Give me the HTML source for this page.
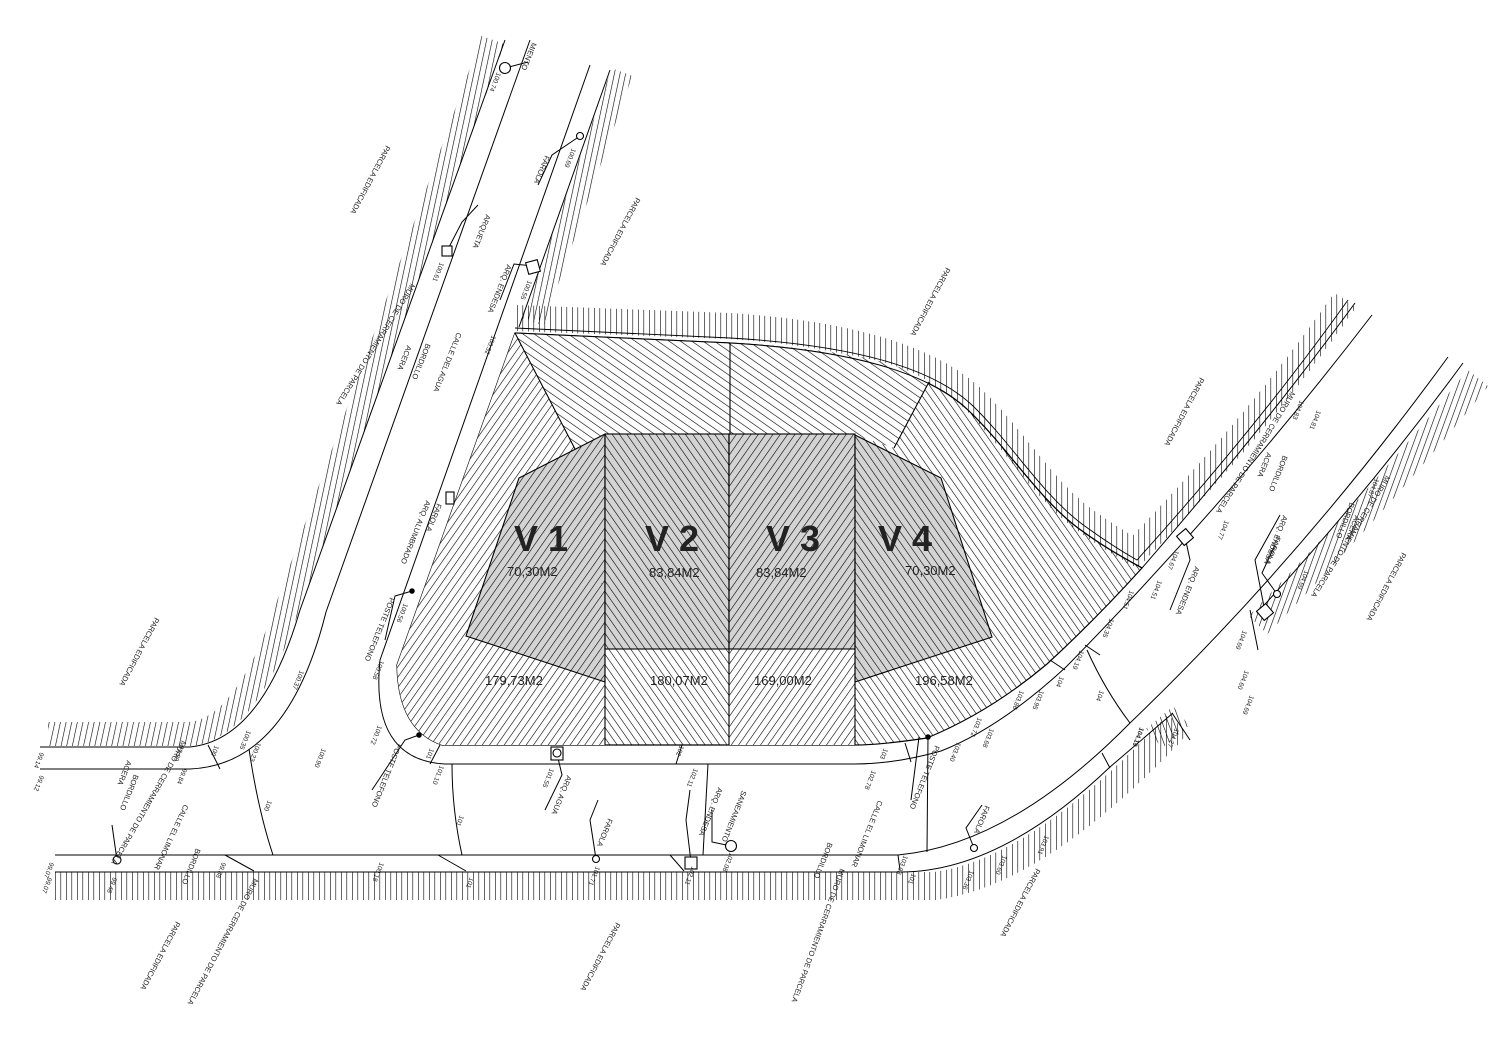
<!DOCTYPE html>
<html><head><meta charset="utf-8">
<style>
html,body{margin:0;padding:0;background:#fff;}
svg{display:block;}
text{font-family:"Liberation Sans",sans-serif;fill:#222;}
.s{font-size:7.5px;}
.n{font-size:6.5px;fill:#333;}
</style></head>
<body>
<svg width="1500" height="1056" viewBox="0 0 1500 1056" xmlns="http://www.w3.org/2000/svg">
<defs>
<pattern id="hF" width="6" height="6" patternUnits="userSpaceOnUse" patternTransform="rotate(35)"><line x1="0" y1="0" x2="0" y2="6" stroke="#000" stroke-width="1.2"/></pattern>
<pattern id="hB" width="6" height="6" patternUnits="userSpaceOnUse" patternTransform="rotate(-35)"><line x1="0" y1="0" x2="0" y2="6" stroke="#000" stroke-width="1.2"/></pattern>
<pattern id="hT" width="6.5" height="6.5" patternUnits="userSpaceOnUse" patternTransform="rotate(-55)"><line x1="0" y1="0" x2="0" y2="6.5" stroke="#000" stroke-width="1.2"/></pattern>
<pattern id="gF" width="6" height="6" patternUnits="userSpaceOnUse" patternTransform="rotate(35)"><rect width="6" height="6" fill="#d4d4d4"/><line x1="0" y1="0" x2="0" y2="6" stroke="#000" stroke-width="1.2"/></pattern>
<pattern id="gB" width="6" height="6" patternUnits="userSpaceOnUse" patternTransform="rotate(-35)"><rect width="6" height="6" fill="#d4d4d4"/><line x1="0" y1="0" x2="0" y2="6" stroke="#000" stroke-width="1.2"/></pattern>
<pattern id="hV" width="5.5" height="5.5" patternUnits="userSpaceOnUse" patternTransform="rotate(12)"><line x1="0" y1="0" x2="0" y2="5.5" stroke="#000" stroke-width="1.2"/></pattern>
<pattern id="hV0" width="5.5" height="5.5" patternUnits="userSpaceOnUse"><line x1="0" y1="0" x2="0" y2="5.5" stroke="#000" stroke-width="1.2"/></pattern>
<pattern id="hN" width="5.5" height="5.5" patternUnits="userSpaceOnUse" patternTransform="rotate(20)"><line x1="0" y1="0" x2="0" y2="5.5" stroke="#000" stroke-width="1.2"/></pattern>
</defs>

<g fill="none">
<path d="M493,40 L288,606 Q246,729 190,734 L48,734" stroke="url(#hV)" stroke-width="24"/>
<path d="M622,72 L533,322" stroke="url(#hV)" stroke-width="22"/>
<path d="M515,318 L730,326 C850,334 930,358 972,398 C1012,436 1042,488 1082,518 C1112,540 1128,548 1135,552 Q1262,420 1345,300" stroke="url(#hV0)" stroke-width="26"/>
<path d="M55,886 L935,886 Q1040,872 1178,724" stroke="url(#hV0)" stroke-width="28"/>
<path d="M1258,625 Q1380,500 1478,378" stroke="url(#hN)" stroke-width="26"/>
<rect x="1150" y="715" width="35" height="25" fill="url(#hN)" transform="rotate(-40 1167 727)"/>
</g>

<path d="M515,333 L730,343 C850,350 928,372 968,410 C1008,448 1038,498 1078,528 C1108,550 1128,560 1142,568 Q1095,620 1047,664 Q990,712 927,738 Q880,745 855,745 L442,745 Q398,730 397,665 Z" fill="url(#hB)" stroke="#000" stroke-width="1.2"/>
<path d="M515,333 L730,343 C850,350 900,362 929,382 L894,448 L855,435 L605,434 L575,449 Z" fill="#fff"/>
<path d="M515,333 L730,343 C850,350 900,362 929,382 L894,448 L855,435 L605,434 L575,449 Z" fill="url(#hT)"/>
<path d="M515,333 L575,449 L605,434 L605,745 L442,745 Q398,730 397,665 Z" fill="#fff"/>
<path d="M515,333 L575,449 L605,434 L605,745 L442,745 Q398,730 397,665 Z" fill="url(#hF)"/>
<rect x="729" y="649" width="126" height="96" fill="#fff"/>
<rect x="729" y="649" width="126" height="96" fill="url(#hF)"/>
<path d="M519,478 L605,434 L605,682 L466,636 Z" fill="url(#gF)" stroke="#000" stroke-width="1.1"/>
<rect x="605" y="434" width="124" height="215" fill="url(#gB)" stroke="#000" stroke-width="1.1"/>
<rect x="729" y="434" width="126" height="215" fill="url(#gF)" stroke="#000" stroke-width="1.1"/>
<path d="M855,435 L941,478 L992,637 L855,682 Z" fill="url(#gB)" stroke="#000" stroke-width="1.1"/>
<g stroke="#000" stroke-width="1.1" fill="none">
<path d="M515,333 L575,449"/>
<path d="M730,343 L730,434"/>
<path d="M929,382 L894,448"/>
<path d="M605,434 L605,745 M729,434 L729,745 M855,435 L855,745 M605,649 L855,649"/>
<path d="M515,333 L730,343 C850,350 928,372 968,410 C1008,448 1038,498 1078,528 C1108,550 1128,560 1142,568 Q1262,430 1355,303" stroke-width="1"/>
<path d="M515,328 L730,338 C852,345 932,367 973,406 C1012,444 1042,494 1082,524 C1112,546 1130,556 1137,560 Q1258,426 1348,300" stroke-width="0.9"/>
</g>

<g stroke="#000" stroke-width="1" fill="none">
<path d="M505,40 L300,610 Q262,740 190,747 L40,747"/>
<path d="M530,40 L326,612 Q288,765 190,769 L40,769"/>
<path d="M590,65 L380,660 Q370,760 445,764 L855,764 Q895,764 941,751 Q1000,728 1066,667 Q1230,500 1372,315"/>
<path d="M610,70 L519,327"/>
<path d="M55,855 L898,855 Q1010,845 1130,723 Q1300,560 1448,357"/>
<path d="M55,872 L900,872 Q1000,872 1110,767 L1173,713"/>
<path d="M1257,613 Q1370,490 1463,363"/>
<path d="M1258,650 L1250,610 M1172,713 L1190,740"/>
<path d="M249,749 Q258,810 273,855"/>
<path d="M452,764 Q452,810 462,855"/>
<path d="M708,764 L703,855"/>
<path d="M1087,650 Q1105,690 1130,723"/>
<path d="M225,855 L254,871 M438,855 L466,871 M670,855 L684,871 M898,855 L900,870 M1102,753 L1110,768"/>
<path d="M208,745 L220,769 M440,745 L430,764 M682,745 L676,764 M905,743 L911,762 M1050,660 L1065,670 M1085,645 L1100,655"/>
<path d="M928,736 L927,852 M919,737 L911,800"/>
<path d="M505,68 L528,62 M447,251 L462,222 L478,205 M533,266 L514,264 L500,300 M580,136 L552,155 L538,185 M412,591 L395,596 L385,640 M419,735 L405,740 L372,790 M557,754 L562,775 L545,810 M117,860 L112,825 M596,859 L590,820 L598,800 M691,862 L686,820 L690,790 M731,846 L712,842 L712,810 M1185,537 L1190,560 L1170,610 M1265,612 L1255,560 L1280,515 M1277,594 L1262,573 L1275,545 M974,848 L966,828 L982,805"/>
</g>

<g stroke="#000" stroke-width="1.1" fill="#fff">
<circle cx="505" cy="68" r="5.5"/>
<rect x="442" y="246" width="10" height="10"/>
<rect x="527" y="261" width="12" height="12" transform="rotate(-15 533 267)"/>
<circle cx="580" cy="136" r="3.5"/>
<rect x="446" y="492" width="8" height="12"/>
<circle cx="412" cy="591" r="2.2" fill="#000"/>
<circle cx="419" cy="735" r="2.2" fill="#000"/>
<rect x="551" y="747" width="12" height="13"/>
<circle cx="557" cy="753" r="4"/>
<circle cx="117" cy="860" r="4"/>
<circle cx="596" cy="859" r="3.5"/>
<rect x="685" y="857" width="12" height="12"/>
<circle cx="731" cy="846" r="5.5"/>
<rect x="1179" y="531" width="12" height="12" transform="rotate(-40 1185 537)"/>
<rect x="1259" y="606" width="12" height="12" transform="rotate(-40 1265 612)"/>
<circle cx="1277" cy="594" r="3.5"/>
<circle cx="928" cy="737" r="2.2" fill="#000"/>
<circle cx="974" cy="848" r="3.5"/>
</g>

<g font-weight="bold" font-size="36" style="fill:#000">
<text x="514" y="551">V 1</text>
<text x="645" y="551">V 2</text>
<text x="766" y="551">V 3</text>
<text x="878" y="551">V 4</text>
</g>
<g font-size="13">
<text x="507" y="576">70,30M2</text>
<text x="649" y="577">83,84M2</text>
<text x="756" y="577">83,84M2</text>
<text x="905" y="575">70,30M2</text>
<text x="485" y="685">179,73M2</text>
<text x="650" y="685">180,07M2</text>
<text x="754" y="685">169,00M2</text>
<text x="915" y="685">196,58M2</text>
</g>

<g class="s">
<text transform="translate(386,145) rotate(118)">PARCELA EDIFICADA</text>
<text transform="translate(636,197) rotate(118)">PARCELA EDIFICADA</text>
<text transform="translate(946,267) rotate(118)">PARCELA EDIFICADA</text>
<text transform="translate(1200,377) rotate(118)">PARCELA EDIFICADA</text>
<text transform="translate(155,617) rotate(118)">PARCELA EDIFICADA</text>
<text transform="translate(1402,552) rotate(118)">PARCELA EDIFICADA</text>
<text transform="translate(176,921) rotate(118)">PARCELA EDIFICADA</text>
<text transform="translate(616,922) rotate(118)">PARCELA EDIFICADA</text>
<text transform="translate(1036,868) rotate(118)">PARCELA EDIFICADA</text>
<text transform="translate(411,283) rotate(122)">MURO DE CERRAMIENTO DE PARCELA</text>
<text transform="translate(407,345) rotate(112)">ACERA</text>
<text transform="translate(426,343) rotate(112)">BORDILLO</text>
<text transform="translate(457,332) rotate(112)">CALLE DEL AGUA</text>
<text transform="translate(486,214) rotate(112)">ARQUETA</text>
<text transform="translate(545,155) rotate(112)">FAROLA</text>
<text transform="translate(507,264) rotate(112)">ARQ. ENDESA</text>
<text transform="translate(532,42) rotate(112)">MIENTO</text>
<text transform="translate(426,500) rotate(112)">ARQ. ALUMBRADO</text>
<text transform="translate(437,503) rotate(112)">FAROLA</text>
<text transform="translate(390,597) rotate(112)">POSTE TELEFONO</text>
<text transform="translate(397,743) rotate(112)">POSTE TELEFONO</text>
<text transform="translate(184,804) rotate(115)">CALLE EL LIMONAR</text>
<text transform="translate(196,848) rotate(112)">BORDILLO</text>
<text transform="translate(134,774) rotate(112)">BORDILLO</text>
<text transform="translate(127,760) rotate(112)">ACERA</text>
<text transform="translate(182,740) rotate(120)">MURO DE CERRAMIENTO DE PARCELA</text>
<text transform="translate(254,878) rotate(118)">MURO DE CERRAMIENTO DE PARCELA</text>
<text transform="translate(567,775) rotate(112)">ARQ. AGUA</text>
<text transform="translate(608,818) rotate(112)">FAROLA</text>
<text transform="translate(718,787) rotate(112)">ARQ. ENDESA</text>
<text transform="translate(742,790) rotate(112)">SANEAMIENTO</text>
<text transform="translate(878,800) rotate(112)">CALLE EL LIMONAR</text>
<text transform="translate(828,842) rotate(112)">BORDILLO</text>
<text transform="translate(840,868) rotate(110)">MURO DE CERRAMIENTO DE PARCELA</text>
<text transform="translate(935,745) rotate(112)">POSTE TELEFONO</text>
<text transform="translate(985,805) rotate(112)">FAROLA</text>
<text transform="translate(1291,391) rotate(122)">MURO DE CERRAMIENTO DE PARCELA</text>
<text transform="translate(1267,452) rotate(112)">ACERA</text>
<text transform="translate(1283,455) rotate(112)">BORDILLO</text>
<text transform="translate(1195,566) rotate(112)">ARQ. ENDESA</text>
<text transform="translate(1283,515) rotate(112)">ARQ. ENDESA</text>
<text transform="translate(1276,536) rotate(112)">FAROLA</text>
<text transform="translate(1350,502) rotate(112)">BORDILLO</text>
<text transform="translate(1355,515) rotate(112)">ACERA</text>
<text transform="translate(1386,475) rotate(122)">MURO DE CERRAMIENTO DE PARCELA</text>
</g>
<g class="n">
<text transform="translate(440,262) rotate(112)">100.61</text>
<text transform="translate(528,280) rotate(112)">100.55</text>
<text transform="translate(572,148) rotate(112)">100.69</text>
<text transform="translate(497,72) rotate(112)">100.74</text>
<text transform="translate(492,335) rotate(112)">100.52</text>
<text transform="translate(404,603) rotate(112)">100.56</text>
<text transform="translate(380,660) rotate(112)">100.58</text>
<text transform="translate(378,725) rotate(112)">100.72</text>
<text transform="translate(300,670) rotate(112)">100.37</text>
<text transform="translate(247,730) rotate(112)">100.35</text>
<text transform="translate(257,742) rotate(112)">100.23</text>
<text transform="translate(215,745) rotate(112)">100</text>
<text transform="translate(40,752) rotate(112)">99.14</text>
<text transform="translate(40,775) rotate(112)">99.12</text>
<text transform="translate(180,745) rotate(112)">99.90</text>
<text transform="translate(183,768) rotate(112)">99.84</text>
<text transform="translate(50,862) rotate(112)">99.07</text>
<text transform="translate(48,877) rotate(112)">99.07</text>
<text transform="translate(113,877) rotate(112)">99.48</text>
<text transform="translate(222,862) rotate(112)">99.88</text>
<text transform="translate(268,800) rotate(112)">100</text>
<text transform="translate(380,862) rotate(112)">100.18</text>
<text transform="translate(322,748) rotate(112)">100.90</text>
<text transform="translate(430,748) rotate(112)">101</text>
<text transform="translate(440,765) rotate(112)">101.10</text>
<text transform="translate(460,815) rotate(112)">101</text>
<text transform="translate(470,877) rotate(112)">101</text>
<text transform="translate(550,768) rotate(112)">101.55</text>
<text transform="translate(596,866) rotate(112)">101.71</text>
<text transform="translate(680,745) rotate(112)">102</text>
<text transform="translate(694,768) rotate(112)">102.11</text>
<text transform="translate(692,866) rotate(112)">102.11</text>
<text transform="translate(730,852) rotate(112)">102.08</text>
<text transform="translate(884,748) rotate(112)">103</text>
<text transform="translate(872,770) rotate(112)">102.78</text>
<text transform="translate(904,855) rotate(112)">103.08</text>
<text transform="translate(912,873) rotate(112)">101</text>
<text transform="translate(957,742) rotate(112)">103.40</text>
<text transform="translate(978,717) rotate(112)">103.72</text>
<text transform="translate(990,728) rotate(112)">103.68</text>
<text transform="translate(1020,690) rotate(112)">103.86</text>
<text transform="translate(1040,690) rotate(112)">103.95</text>
<text transform="translate(1060,676) rotate(112)">104</text>
<text transform="translate(1080,650) rotate(112)">104.19</text>
<text transform="translate(1100,690) rotate(112)">104</text>
<text transform="translate(1110,618) rotate(112)">104.35</text>
<text transform="translate(1130,590) rotate(112)">104.51</text>
<text transform="translate(1158,580) rotate(112)">104.51</text>
<text transform="translate(1175,550) rotate(112)">104.67</text>
<text transform="translate(1225,520) rotate(112)">104.77</text>
<text transform="translate(1300,400) rotate(112)">104.83</text>
<text transform="translate(1317,410) rotate(112)">104.81</text>
<text transform="translate(1243,630) rotate(112)">104.69</text>
<text transform="translate(1245,670) rotate(112)">104.60</text>
<text transform="translate(1250,695) rotate(112)">104.69</text>
<text transform="translate(1305,570) rotate(112)">104.69</text>
<text transform="translate(1375,478) rotate(112)">104.87</text>
<text transform="translate(1140,727) rotate(112)" font-weight="bold">104.19</text>
<text transform="translate(1175,728) rotate(112)">104.27</text>
<text transform="translate(1045,835) rotate(112)">103.91</text>
<text transform="translate(1003,855) rotate(112)">103.60</text>
<text transform="translate(970,870) rotate(112)">103.36</text>
</g>
</svg>
</body></html>
